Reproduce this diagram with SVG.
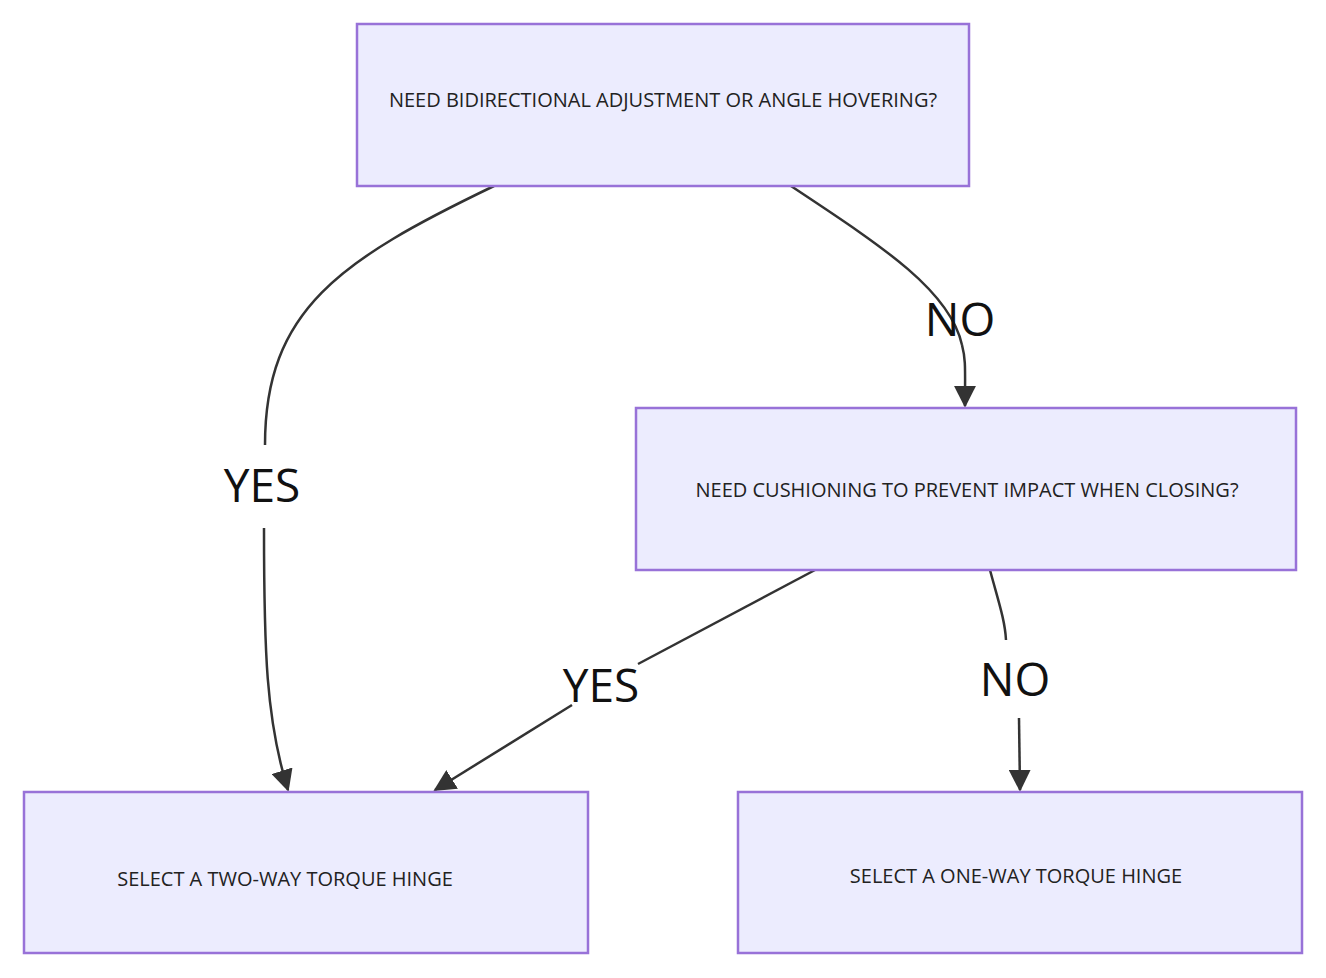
<svg xmlns="http://www.w3.org/2000/svg" width="1326" height="978" viewBox="0 0 1326 978">
<style>
.n{fill:#ececfe;stroke:#9872d8;stroke-width:2.5}
.t{font-family:"Open Sans",sans-serif;font-size:20px;fill:#222;text-anchor:middle;dominant-baseline:central}
.l{font-family:"Open Sans",sans-serif;font-size:46px;fill:#111;text-anchor:middle;dominant-baseline:central}
.e{fill:none;stroke:#333;stroke-width:2.5}
</style>
<defs><marker id="ar" viewBox="0 0 10 10" refX="9" refY="5" markerWidth="10" markerHeight="10" markerUnits="userSpaceOnUse" orient="auto"><path d="M0,0L10,5L0,10z" fill="#333"/></marker>
<marker id="a" viewBox="0 0 12 12" refX="11" refY="6" markerWidth="22" markerHeight="22" markerUnits="userSpaceOnUse" orient="auto"><path d="M0,0L12,6L0,12z" fill="#333"/></marker></defs>
<rect width="1326" height="978" fill="#fff"/>
<g id="edges">
<path class="e" d="M494,186 C340,260 265,310 265,445"/>
<path class="e" d="M264,528 C264,650 266,720 288,790" marker-end="url(#a)"/>
<path class="e" d="M791,186 C880,245 950,290 962,345"/>
<path class="e" d="M962,345 C966,360 965,370 965,406" marker-end="url(#a)"/>
<path class="e" d="M815,570 L638,664"/>
<path class="e" d="M572,705 L435,790" marker-end="url(#a)"/>
<path class="e" d="M990,570 C998,600 1005,620 1006,640"/>
<path class="e" d="M1019,718 L1020,790" marker-end="url(#a)"/>
<text class="l" x="262" y="484">YES</text>
<text class="l" x="960" y="318">NO</text>
<text class="l" x="601" y="684">YES</text>
<text class="l" x="1015" y="678">NO</text>
</g>
<g id="A"><rect class="n" x="357" y="24" width="612" height="162"/><text class="t" x="663" y="99">NEED BIDIRECTIONAL ADJUSTMENT OR ANGLE HOVERING?</text></g>
<g id="B"><rect class="n" x="636" y="408" width="660" height="162"/><text class="t" x="967" y="489">NEED CUSHIONING TO PREVENT IMPACT WHEN CLOSING?</text></g>
<g id="C"><rect class="n" x="24" y="792" width="564" height="161"/><text class="t" x="285" y="878">SELECT A TWO-WAY TORQUE HINGE</text></g>
<g id="D"><rect class="n" x="738" y="792" width="564" height="161"/><text class="t" x="1016" y="875">SELECT A ONE-WAY TORQUE HINGE</text></g>
</svg>
